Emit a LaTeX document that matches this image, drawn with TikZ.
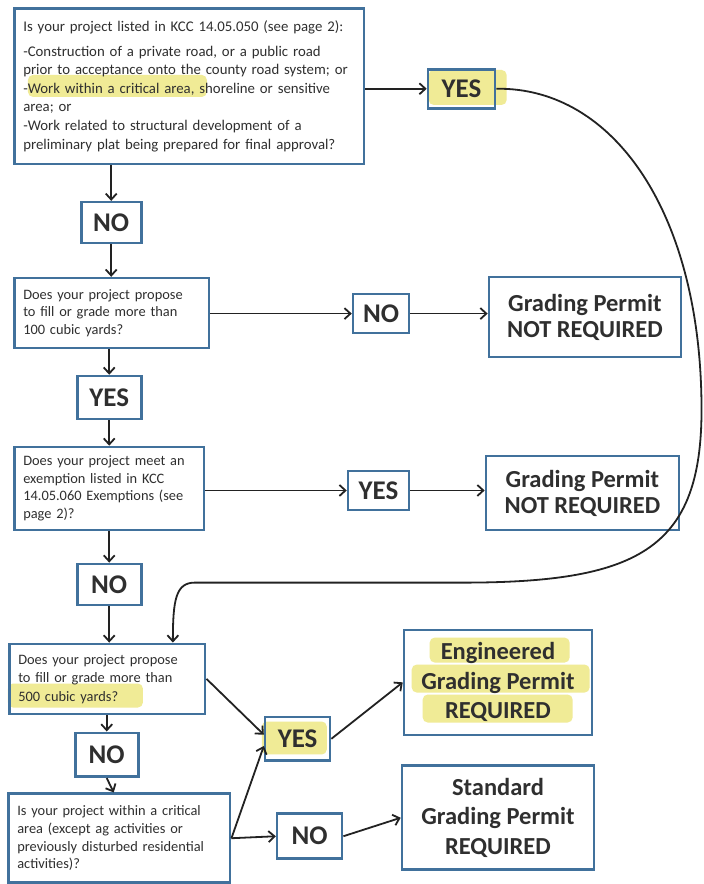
\documentclass[tikz,border=0pt]{standalone}
\usepackage{fontspec}
\setmainfont{Carlito}
\usetikzlibrary{arrows.meta,calc}
\definecolor{bord}{HTML}{41719C}
\definecolor{txt}{HTML}{2F2F2F}
\definecolor{hl}{HTML}{F0EB96}
\definecolor{ln}{HTML}{222222}
\begin{document}
\begin{tikzpicture}[x=1pt,y=-1pt,
  box/.style={draw=bord, line width=2.6pt, inner sep=0pt, anchor=north west, text=txt},
  qbox/.style={box, align=left, font=\fontsize{14.4}{17.6}\selectfont, inner xsep=9pt},
  lab/.style={box, font=\fontsize{27}{30}\bfseries\selectfont},
  res/.style={box, align=center, font=\fontsize{24.5}{26}\bfseries\selectfont},
  arr/.style={draw=ln, line width=1.8pt, -{Straight Barb[length=6pt,width=11pt]}},
  hilite/.style={fill=hl, rounded corners=5pt}]
\fill[white] (0,0) rectangle (704,884);
% highlights
\fill[hilite] (28,75) rectangle (207,97);
\fill[hilite] (429,70) rectangle (507,105);
\fill[hilite] (8,684) rectangle (143,708);
\fill[hilite] (262,722) rectangle (327,755);
\fill[hilite] (430,638) rectangle (570,663);
\fill[hilite] (412,665) rectangle (590,693);
\fill[hilite] (423,695) rectangle (573,723);
% question boxes
\node[qbox, text width=332pt, minimum height=156pt, font=\fontsize{14.8}{18.6}\selectfont] (q1) at (13,7)
 {Is your project listed in KCC 14.05.050 (see page 2):\\[6pt]
  -Construction of a private road, or a public road\\
  prior to acceptance onto the county road system; or\\
  -Work within a critical area, shoreline or sensitive\\
  area; or\\
  -Work related to structural development of a\\
  preliminary plat being prepared for final approval?};
\node[qbox, text width=177pt, minimum height=70pt] (q2) at (13,277)
 {Does your project propose\\ to fill or grade more than\\ 100 cubic yards?};
\node[qbox, text width=172pt, minimum height=83pt] (q3) at (13,446)
 {Does your project meet an\\ exemption listed in KCC\\ 14.05.060 Exemptions (see\\ page 2)?};
\node[qbox, text width=178pt, minimum height=70pt, font=\fontsize{14.4}{18.4}\selectfont] (q4) at (8,643)
 {Does your project propose\\ to fill or grade more than\\ 500 cubic yards?};
\node[qbox, text width=204pt, minimum height=89pt] (q5) at (7,793)
 {Is your project within a critical\\ area (except ag activities or\\ previously disturbed residential\\ activities)?};
% yes / no labels
\node[lab, minimum width=67pt, minimum height=39pt] (yes1) at (427,68) {YES};
\node[lab, minimum width=60pt, minimum height=41pt] (no1) at (80,201) {NO};
\node[lab, minimum width=56pt, minimum height=39pt] (no2) at (352,293) {NO};
\node[lab, minimum width=64pt, minimum height=43pt] (yes2) at (76,375) {YES};
\node[lab, minimum width=61pt, minimum height=39pt] (yes3) at (347,470) {YES};
\node[lab, minimum width=64pt, minimum height=41pt] (no3) at (76,563) {NO};
\node[lab, minimum width=63pt, minimum height=44pt] (no4) at (74,732) {NO};
\node[lab, minimum width=65pt, minimum height=44pt] (yes5) at (264,716) {YES};
\node[lab, minimum width=65pt, minimum height=45pt] (no5) at (276,813) {NO};
% result boxes
\node[res, minimum width=192pt, minimum height=80pt] (gp1) at (488,276) {Grading Permit\\ NOT REQUIRED};
\node[res, minimum width=193pt, minimum height=74pt] (gp2) at (485,455) {Grading Permit\\ NOT REQUIRED};
\node[res, minimum width=188pt, minimum height=105pt, font=\fontsize{24.5}{29.5}\bfseries\selectfont] (eng) at (403,629) {Engineered\\ Grading Permit\\ REQUIRED};
\node[res, minimum width=192pt, minimum height=104pt, font=\fontsize{24.5}{29.5}\bfseries\selectfont] (std) at (401,765) {Standard\\ Grading Permit\\ REQUIRED};
% connectors
\draw[arr] (q1.east |- yes1.west) -- (yes1.west);
\draw[arr] (no1.north |- q1.south) -- (no1.north);
\draw[arr] (no1.south) -- (no1.south |- q2.north);
\draw[arr] (q2.east |- no2.west) -- (no2.west);
\draw[arr] (no2.east) -- (gp1.west |- no2.east);
\draw[arr] (yes2.north |- q2.south) -- (yes2.north);
\draw[arr] (yes2.south) -- (yes2.south |- q3.north);
\draw[arr] (q3.east |- yes3.west) -- (yes3.west);
\draw[arr] (yes3.east) -- (gp2.west |- yes3.east);
\draw[arr] (no3.north |- q3.south) -- (no3.north);
\draw[arr] (no3.south) -- (no3.south |- q4.north);
\draw[arr] (no4.north |- q4.south) -- (no4.north);
\draw[arr] (no4.south) -- ($(no4.south |- q5.north)+(7,0)$);
\draw[arr] (q4.east) -- (yes5.173);
\draw[arr] (q5.east) -- (yes5.192);
\draw[arr] (q5.east) -- (no5.west);
\draw[arr] (yes5.east) -- (eng.west);
\draw[arr] (no5.east) -- (std.west);
\draw[arr] (yes1.east) .. controls (615,87) and (702,215) .. (702,410)
  .. controls (702,548) and (640,582) .. (470,583) -- (195,583)
  .. controls (176,583) and (173,600) .. ($(q4.north west)+(165,0)$);
\end{tikzpicture}
\end{document}
